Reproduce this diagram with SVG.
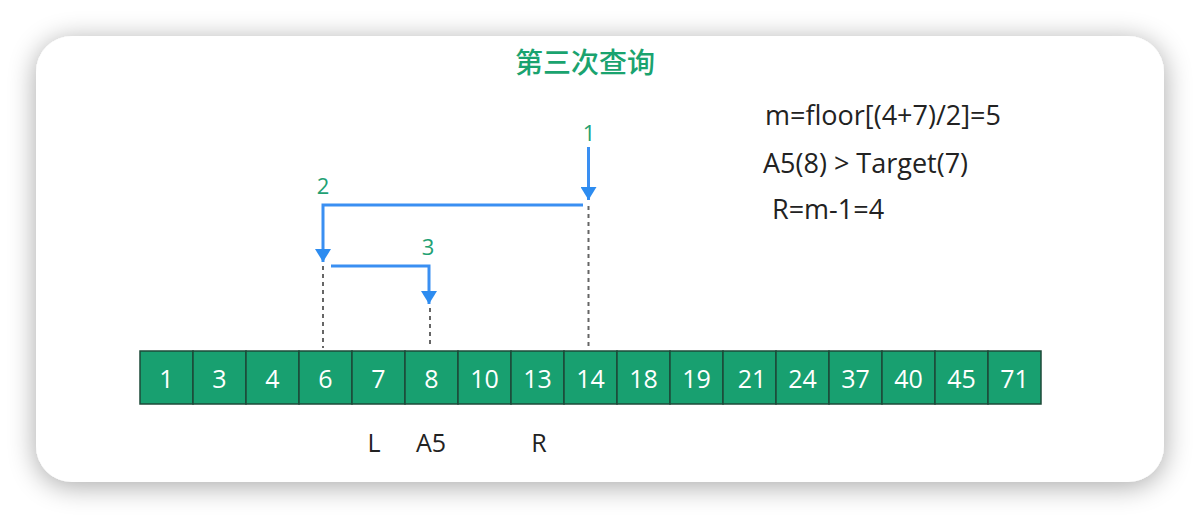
<svg xmlns="http://www.w3.org/2000/svg" width="1200" height="518" viewBox="0 0 1200 518">
<defs>
<filter id="sh" x="-10%" y="-15%" width="120%" height="135%">
<feGaussianBlur in="SourceAlpha" stdDeviation="14"/>
<feOffset dy="4"/>
<feComponentTransfer><feFuncA type="linear" slope="0.35"/></feComponentTransfer>
<feMerge><feMergeNode/><feMergeNode in="SourceGraphic"/></feMerge>
</filter>
<marker id="ah" markerWidth="13" markerHeight="16" refX="13" refY="8" orient="auto" markerUnits="userSpaceOnUse" viewBox="0 0 13 16">
<path d="M0,0 L13,8 L0,16 Z" fill="#2d8cf0"/>
</marker>
<style>
.cell{fill:#18a070;stroke:#1d4a38;stroke-width:1.5}
.ct{font-family:"Open Sans","Noto Sans",sans-serif;font-size:25px;fill:#ffffff;text-anchor:middle}
.lbl{font-family:"Open Sans","Noto Sans",sans-serif;font-size:25px;fill:#222222}
.fm{font-family:"Open Sans","Noto Sans",sans-serif;font-size:27px;fill:#222222}
.num{font-family:"Open Sans","Noto Sans",sans-serif;font-size:22px;fill:#1fa173;text-anchor:middle}
.arr{fill:none;stroke:#3a8ff2;stroke-width:3}
.dash{stroke:#666;stroke-width:2;stroke-dasharray:4 4;fill:none}
</style>
</defs>
<rect x="36" y="36" width="1128" height="446" rx="36" fill="#ffffff" filter="url(#sh)"/>
<text x="585" y="73" text-anchor="middle" font-family="'Noto Sans CJK SC',sans-serif" font-size="28" font-weight="500" fill="#1aa36f">第三次查询</text>
<g id="formulas">
<text class="fm" x="765" y="125">m=floor[(4+7)/2]=5</text>
<text class="fm" x="763" y="173">A5(8) &gt; Target(7)</text>
<text class="fm" x="772" y="219">R=m-1=4</text>
</g>
<g id="array">
<rect class="cell" x="140" y="351" width="53" height="53"/><text class="ct" x="166.5" y="388">1</text>
<rect class="cell" x="193" y="351" width="53" height="53"/><text class="ct" x="219.5" y="388">3</text>
<rect class="cell" x="246" y="351" width="53" height="53"/><text class="ct" x="272.5" y="388">4</text>
<rect class="cell" x="299" y="351" width="53" height="53"/><text class="ct" x="325.5" y="388">6</text>
<rect class="cell" x="352" y="351" width="53" height="53"/><text class="ct" x="378.5" y="388">7</text>
<rect class="cell" x="405" y="351" width="53" height="53"/><text class="ct" x="431.5" y="388">8</text>
<rect class="cell" x="458" y="351" width="53" height="53"/><text class="ct" x="484.5" y="388">10</text>
<rect class="cell" x="511" y="351" width="53" height="53"/><text class="ct" x="537.5" y="388">13</text>
<rect class="cell" x="564" y="351" width="53" height="53"/><text class="ct" x="590.5" y="388">14</text>
<rect class="cell" x="617" y="351" width="53" height="53"/><text class="ct" x="643.5" y="388">18</text>
<rect class="cell" x="670" y="351" width="53" height="53"/><text class="ct" x="696.5" y="388">19</text>
<rect class="cell" x="723" y="351" width="53" height="53"/><text class="ct" x="752" y="388">21</text>
<rect class="cell" x="776" y="351" width="53" height="53"/><text class="ct" x="802.5" y="388">24</text>
<rect class="cell" x="829" y="351" width="53" height="53"/><text class="ct" x="855.5" y="388">37</text>
<rect class="cell" x="882" y="351" width="53" height="53"/><text class="ct" x="908.5" y="388">40</text>
<rect class="cell" x="935" y="351" width="53" height="53"/><text class="ct" x="961.5" y="388">45</text>
<rect class="cell" x="988" y="351" width="53" height="53"/><text class="ct" x="1014.5" y="388">71</text>
</g>
<g id="pointers">
<text class="lbl" x="374" y="452" text-anchor="middle">L</text>
<text class="lbl" x="431" y="452" text-anchor="middle">A5</text>
<text class="lbl" x="539" y="452" text-anchor="middle">R</text>
</g>
<g id="connectors">
<line class="dash" x1="588.5" y1="206" x2="588.5" y2="348"/>
<line class="dash" x1="323" y1="266" x2="323" y2="348"/>
<line class="dash" x1="430" y1="308" x2="430" y2="348"/>
<path class="arr" d="M588.5,147 L588.5,200" marker-end="url(#ah)"/>
<path class="arr" d="M583,205 L323,205 L323,262" marker-end="url(#ah)"/>
<path class="arr" d="M331,266 L429,266 L429,304" marker-end="url(#ah)"/>
</g>
<g id="step-labels">
<text class="num" x="589" y="141">1</text>
<text class="num" x="323" y="194">2</text>
<text class="num" x="428" y="255">3</text>
</g>
</svg>
